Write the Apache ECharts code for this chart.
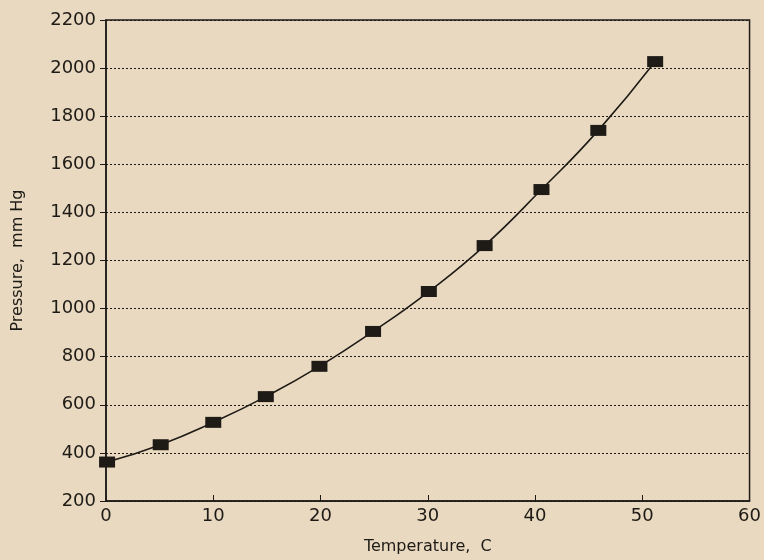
<!DOCTYPE html>
<html>
<head>
<meta charset="utf-8">
<script src="https://cdn.jsdelivr.net/npm/echarts@6/dist/echarts.min.js"></script>
<style>
  html, body { margin: 0; padding: 0; background: #e9d9c1; }
  #chart { width: 764px; height: 560px; }
</style>
</head>
<body>
<div id="chart"></div>
<script>
// Values
var temperatures = [0.1, 5.1, 10.0, 14.9, 19.9, 24.9, 30.1, 35.3, 40.6, 45.9, 51.2];
var pressures = [362, 434, 527, 634, 760, 905, 1071, 1262, 1495, 1741, 2027];

var points = temperatures.map(function (t, i) {
  return [t, pressures[i]];
});

var ink = '#1e1b16';
var font = 'DejaVu Sans';

var chart = echarts.init(document.getElementById('chart'), null, {renderer: 'canvas'});

chart.setOption({
  backgroundColor: '#e9d9c1',
  animation: false,
  grid: {
    left: 106,
    right: 11,
    top: 20,
    bottom: 58,
    show: true,
    borderColor: ink,
    borderWidth: 1.5
  },
  xAxis: {
    type: 'value',
    min: 0,
    max: 60,
    interval: 10,
    name: 'Temperature,  C',
    nameLocation: 'middle',
    nameGap: 38,
    nameTextStyle: {color: ink, fontFamily: font, fontSize: 16},
    axisLine: {show: true, lineStyle: {color: ink, width: 1.5}},
    axisTick: {show: true, inside: true, length: 6, lineStyle: {color: ink}},
    axisLabel: {color: ink, fontFamily: font, fontSize: 18, margin: 6,
      formatter: function (v) { return String(v); }},
    splitLine: {show: false}
  },
  yAxis: {
    type: 'value',
    min: 200,
    max: 2200,
    interval: 200,
    name: 'Pressure,  mm Hg',
    nameLocation: 'middle',
    nameGap: 80,
    nameTextStyle: {color: ink, fontFamily: font, fontSize: 16},
    axisLine: {show: true, lineStyle: {color: ink, width: 1.5}},
    axisTick: {show: true, inside: false, length: 6, lineStyle: {color: ink}},
    axisLabel: {color: ink, fontFamily: font, fontSize: 18, margin: 10,
      formatter: function (v) { return String(v); }},
    splitLine: {show: true, lineStyle: {color: ink, type: [2, 2], width: 1}}
  },
  series: [{
    type: 'line',
    data: points,
    smooth: true,
    symbol: 'rect',
    symbolSize: [16, 11],
    itemStyle: {color: ink},
    lineStyle: {color: ink, width: 1.6}
  }]
});
</script>
</body>
</html>
